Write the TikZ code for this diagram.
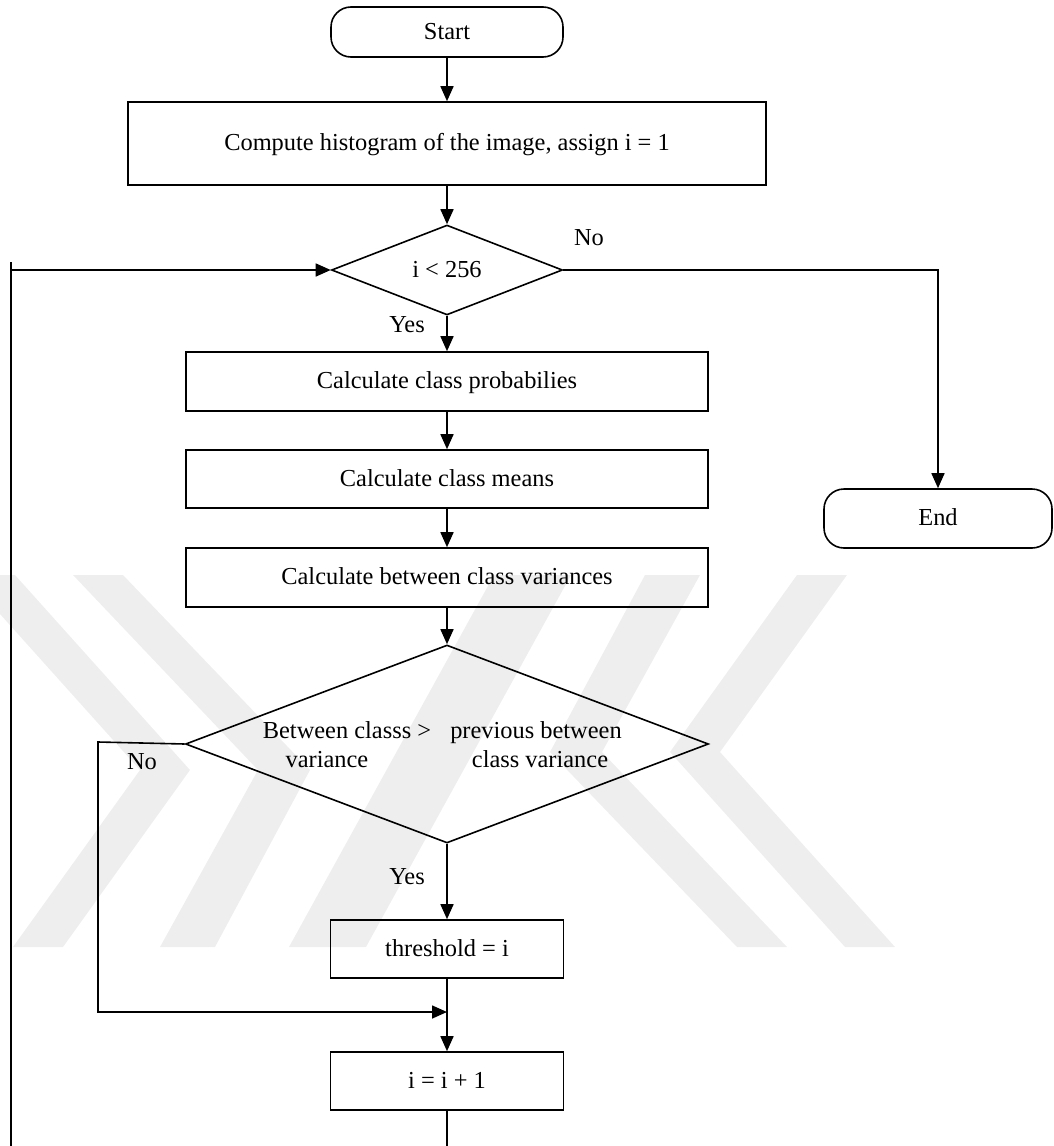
\documentclass[tikz,border=0pt]{standalone}
\usepackage{fontspec}
\setmainfont{Liberation Serif}
\usetikzlibrary{shapes.geometric,arrows.meta}
\begin{document}
\begin{tikzpicture}[x=1pt,y=-1pt,
  line width=1.6pt,
  lbl/.style={font=\fontsize{24.4}{29}\selectfont, inner sep=0pt},
  box/.style={draw, rectangle, lbl, text height=17.5pt, text depth=3.1pt},
  term/.style={box, rounded corners=20pt},
  dec/.style={draw, diamond, lbl, text height=17.5pt, text depth=3.1pt},
  arr/.style={-{Triangle[length=15pt,width=13pt]}},
  wm/.style={fill={rgb,255:red,238;green,238;blue,238}, draw=none}
]
\useasboundingbox (0,0) rectangle (1054,1146);

% faint emblem behind the chart
\begin{scope}
  \clip (0,0) rectangle (1054,1146);
  \fill[wm] (-35,575) -- (15,575) -- (190,770) -- (63,947) -- (13,947) -- (140,770) -- cycle;
  \fill[wm] (73,575) -- (123,575) -- (310,770) -- (215,947) -- (160,947) -- (258,770) -- cycle;
  \fill[wm] (289,947) -- (366,947) -- (571,575) -- (494,575) -- cycle;
  \fill[wm] (787,947) -- (737,947) -- (550,752) -- (645,575) -- (700,575) -- (602,752) -- cycle;
  \fill[wm] (895,947) -- (845,947) -- (670,752) -- (797,575) -- (847,575) -- (720,752) -- cycle;
\end{scope}

% steps
\node[term, minimum width=232pt, minimum height=50pt] (start) at (447,32) {Start};
\node[box, minimum width=638pt, minimum height=83pt] (init) at (447,143.5) {Compute histogram of the image, assign i = 1};
\node[dec, minimum width=231pt, minimum height=82pt, inner sep=0pt] (cond) at (447,270) {i < 256};
\node[box, minimum width=522pt, minimum height=59pt] (prob) at (447,381.5) {Calculate class probabilies};
\node[box, minimum width=522pt, minimum height=58pt] (mean) at (447,479) {Calculate class means};
\node[box, minimum width=522pt, minimum height=59pt] (var) at (447,577.5) {Calculate between class variances};
\node[dec, minimum width=523pt, minimum height=198pt, inner sep=0pt] (cmp) at (447,744) {};
\node[lbl, anchor=base] (cmpa) at (347,738) {Between classs >};
\node[lbl, anchor=base] (cmpb) at (327,767) {variance};
\node[lbl, anchor=base] (cmpc) at (536,738) {previous between};
\node[lbl, anchor=base] (cmpd) at (540,767) {class variance};
\node[box, minimum width=233pt, minimum height=58pt] (thr) at (447,949) {threshold = i};
\node[box, minimum width=233pt, minimum height=58pt] (inc) at (447,1081) {i = i + 1};
\node[term, minimum width=228pt, minimum height=59pt] (stop) at (938,518.5) {End};

% branch labels
\node[lbl, anchor=base] (no1) at (589,245) {No};
\node[lbl, anchor=base] (yes1) at (407,332.7) {Yes};
\node[lbl, anchor=base] (no2) at (142,769) {No};
\node[lbl, anchor=base] (yes2) at (407,884) {Yes};

% routing points
\coordinate (looptop) at (11,262);
\coordinate (loopin) at (11,270);
\coordinate (loopbot) at (11,1146);
\coordinate (nob) at (98,742);
\coordinate (join) at (447,1012);
\coordinate (outbot) at (447,1146);

% connectors
\draw[arr] (start) -- (init);
\draw[arr] (init) -- (cond);
\draw[arr] (cond) -- (prob);
\draw[arr] (prob) -- (mean);
\draw[arr] (mean) -- (var);
\draw[arr] (var) -- (cmp);
\draw[arr] (cmp) -- (thr);
\draw[arr] (cond.east) -| (stop.north);
\draw (looptop) -- (loopbot);
\draw[arr] (loopin) -- (cond.west);
\draw[arr] (cmp.west) -- (nob) |- (join);
\draw (thr) -- (join);
\draw[arr] (join) -- (inc);
\draw (inc) -- (outbot);
\end{tikzpicture}
\end{document}
